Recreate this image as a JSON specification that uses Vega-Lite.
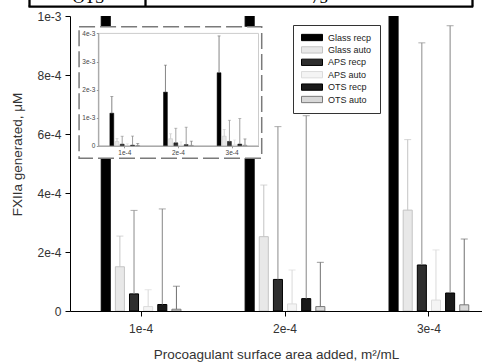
{
  "$schema": "https://vega.github.io/schema/vega-lite/v6.json",
  "width": 430,
  "height": 295,
  "autosize": "none",
  "padding": {"left": 70, "top": 16, "right": 0, "bottom": 51},
  "background": "white",
  "config": {
    "font": "Liberation Sans",
    "view": {"stroke": null},
    "axis": {"grid": false}
  },
  "datasets": {
    "bars": [
      {"area": "1e-4", "series": "Glass recp", "value": 0.00116, "upper": 0.00175},
      {"area": "1e-4", "series": "Glass auto", "value": 0.000150, "upper": 0.000254},
      {"area": "1e-4", "series": "APS recp", "value": 0.000058, "upper": 0.000341},
      {"area": "1e-4", "series": "APS auto", "value": 0.000015, "upper": 0.000072},
      {"area": "1e-4", "series": "OTS recp", "value": 0.000022, "upper": 0.000346},
      {"area": "1e-4", "series": "OTS auto", "value": 0.000006, "upper": 0.000084},
      {"area": "2e-4", "series": "Glass recp", "value": 0.00191, "upper": 0.00287},
      {"area": "2e-4", "series": "Glass auto", "value": 0.000252, "upper": 0.000427},
      {"area": "2e-4", "series": "APS recp", "value": 0.000107, "upper": 0.000625},
      {"area": "2e-4", "series": "APS auto", "value": 0.000024, "upper": 0.000139},
      {"area": "2e-4", "series": "OTS recp", "value": 0.000042, "upper": 0.000662},
      {"area": "2e-4", "series": "OTS auto", "value": 0.000015, "upper": 0.000165},
      {"area": "3e-4", "series": "Glass recp", "value": 0.00260, "upper": 0.00391},
      {"area": "3e-4", "series": "Glass auto", "value": 0.000342, "upper": 0.000581},
      {"area": "3e-4", "series": "APS recp", "value": 0.000156, "upper": 0.000909},
      {"area": "3e-4", "series": "APS auto", "value": 0.000037, "upper": 0.000207},
      {"area": "3e-4", "series": "OTS recp", "value": 0.000061, "upper": 0.000967},
      {"area": "3e-4", "series": "OTS auto", "value": 0.000021, "upper": 0.000244}
    ]
  },
  "resolve": {"scale": {"x": "independent", "y": "independent", "xOffset": "independent"}},
  "layer": [
    {
      "data": {"name": "bars"},
      "encoding": {
        "x": {"field": "area", "type": "nominal", "sort": null,
          "scale": {"domain": ["1e-4", "2e-4", "3e-4"], "paddingInner": 0.446, "paddingOuter": 0.217},
          "axis": {"orient": "bottom", "title": "Procoagulant surface area added, m²/mL", "labelAngle": 0, "labelFontSize": 12, "labelColor": "#333", "labelPadding": 7, "tickSize": 5, "tickColor": "#000", "domainColor": "#000", "titleFontSize": 13.5, "titleFontWeight": "normal", "titleColor": "#333", "titlePadding": 13, "titleX": 206}},
        "xOffset": {"field": "series", "type": "nominal", "sort": null,
          "scale": {"domain": ["Glass recp", "Glass auto", "APS recp", "APS auto", "OTS recp", "OTS auto"], "paddingInner": 0.36, "paddingOuter": 0}}
      },
      "layer": [
        {
          "mark": {"type": "bar", "clip": true, "strokeWidth": 1},
          "encoding": {
            "y": {"field": "value", "type": "quantitative", "stack": null,
              "scale": {"domain": [0, 0.001], "nice": false},
              "axis": {"orient": "left", "title": "FXIIa generated, μM", "values": [0, 0.0002, 0.0004, 0.0006, 0.0008, 0.001], "labelExpr": "datum.value == 0 ? '0' : format(datum.value, '.0e')", "labelFontSize": 12, "labelColor": "#333", "labelPadding": 4, "tickSize": 5, "tickColor": "#000", "domainColor": "#000", "titleFontSize": 13.5, "titleFontWeight": "normal", "titleColor": "#333", "titlePadding": 12, "titleY": 138}},
            "fill": {"field": "series", "type": "nominal",
              "scale": {"domain": ["Glass recp", "Glass auto", "APS recp", "APS auto", "OTS recp", "OTS auto"], "range": ["#000000", "#e8e8e8", "#2e2e2e", "#f4f4f4", "#1a1a1a", "#d8d8d8"]},
              "legend": {"orient": "none", "legendX": 223, "legendY": 9, "title": null, "symbolType": "M-1,-0.3H1V0.3H-1Z", "symbolSize": 441, "symbolStrokeWidth": 1, "symbolOpacity": 1, "clipHeight": 9, "rowPadding": 2.4, "labelFont": "Liberation Sans", "labelFontSize": 9, "labelColor": "#222", "labelOffset": 5, "padding": 8, "strokeColor": "#333", "fillColor": "white"}},
            "stroke": {"field": "series", "type": "nominal",
              "scale": {"domain": ["Glass recp", "Glass auto", "APS recp", "APS auto", "OTS recp", "OTS auto"], "range": ["#000000", "#c4c4c4", "#000000", "#dcdcdc", "#000000", "#7a7a7a"]}}
          }
        },
        {
          "mark": {"type": "rule", "clip": true, "strokeWidth": 1},
          "encoding": {
            "y": {"field": "value", "type": "quantitative", "axis": {"title": "FXIIa generated, μM"}},
            "y2": {"field": "upper"},
            "color": {"field": "series", "type": "nominal",
              "scale": {"domain": ["Glass recp", "Glass auto", "APS recp", "APS auto", "OTS recp", "OTS auto"], "range": ["#666666", "#c4c4c4", "#8c8c8c", "#dadada", "#858585", "#707070"]},
              "legend": null}
          }
        },
        {
          "mark": {"type": "tick", "clip": true, "orient": "horizontal", "size": 7, "thickness": 1},
          "encoding": {
            "y": {"field": "upper", "type": "quantitative", "axis": {"title": "FXIIa generated, μM"}},
            "color": {"field": "series", "type": "nominal", "legend": null}
          }
        }
      ]
    },
    {
      "resolve": {"scale": {"x": "independent"}},
      "layer": [
        {
          "data": {"values": [{}]},
          "layer": [
            {
              "mark": {"type": "rect", "fill": "white", "stroke": "#7a7a7a", "strokeWidth": 1.5, "strokeDash": [16, 5]},
              "encoding": {
                "x": {"datum": -0.12, "type": "quantitative", "scale": {"domain": [0, 1], "range": [28.3, 188.5], "nice": false, "zero": false}, "axis": null},
                "x2": {"datum": 1.02},
                "y": {"datum": -0.000445, "type": "quantitative", "scale": {"domain": [0, 0.004], "range": [129.8, 17.4], "nice": false, "zero": false},
                  "axis": {"orient": "left", "offset": -28.3, "title": null, "values": [0, 0.001, 0.002, 0.003, 0.004], "labelExpr": "datum.value == 0 ? '0' : format(datum.value, '.0e')", "labelFontSize": 6.5, "labelColor": "#444", "labelPadding": 1.5, "tickSize": 2, "tickColor": "#999", "domainColor": "#999", "zindex": 2}},
                "y2": {"datum": 0.00424}
              }
            },
            {
              "mark": {"type": "rect", "filled": false, "stroke": "#cccccc", "strokeWidth": 1},
              "encoding": {
                "x": {"datum": 0, "type": "quantitative"},
                "x2": {"datum": 1},
                "y": {"datum": 0, "type": "quantitative"},
                "y2": {"datum": 0.004}
              }
            }
          ]
        },
        {
          "data": {"name": "bars"},
          "encoding": {
            "x": {"field": "area", "type": "nominal", "sort": null,
              "scale": {"domain": ["1e-4", "2e-4", "3e-4"], "range": [28.3, 188.5], "paddingInner": 0.444, "paddingOuter": 0.216},
              "axis": {"orient": "bottom", "offset": -165.2, "title": null, "labelAngle": 0, "labelFontSize": 6.5, "labelColor": "#444", "labelPadding": 2, "tickSize": 2, "tickColor": "#999", "domainColor": "#999", "zindex": 2}},
            "xOffset": {"field": "series", "type": "nominal", "sort": null,
              "scale": {"domain": ["Glass recp", "Glass auto", "APS recp", "APS auto", "OTS recp", "OTS auto"], "paddingInner": 0.25, "paddingOuter": 0}}
          },
          "layer": [
            {
              "mark": {"type": "bar", "strokeWidth": 0.5},
              "encoding": {
                "y": {"field": "value", "type": "quantitative", "stack": null, "axis": {"orient": "left", "offset": -28.3, "title": null, "values": [0, 0.001, 0.002, 0.003, 0.004], "labelExpr": "datum.value == 0 ? '0' : format(datum.value, '.0e')", "labelFontSize": 6.5, "labelColor": "#444", "labelPadding": 1.5, "tickSize": 2, "tickColor": "#999", "domainColor": "#999", "zindex": 2}},
                "fill": {"field": "series", "type": "nominal"},
                "stroke": {"field": "series", "type": "nominal"}
              }
            },
            {
              "mark": {"type": "rule", "strokeWidth": 0.8},
              "encoding": {
                "y": {"field": "value", "type": "quantitative"},
                "y2": {"field": "upper"},
                "color": {"field": "series", "type": "nominal", "legend": null}
              }
            },
            {
              "mark": {"type": "tick", "orient": "horizontal", "size": 3, "thickness": 0.8},
              "encoding": {
                "y": {"field": "upper", "type": "quantitative"},
                "color": {"field": "series", "type": "nominal", "legend": null}
              }
            }
          ]
        }
      ]
    },
    {
      "data": {"values": [{}]},
      "mark": {"type": "rule", "opacity": 0},
      "encoding": {
        "x": {"datum": 0, "type": "quantitative",
          "scale": {"domain": [-42, 402.7], "range": [-42, 402.7], "nice": false, "zero": false},
          "axis": {"orient": "top", "offset": 9.8, "title": null, "values": [-40.8, 18, 75.5, 249, 401.5],
            "domainWidth": 2.3, "domainColor": "#000", "tickWidth": 2.3, "tickSize": 10,
            "tickColor": {"condition": {"test": "datum.value == 18 || datum.value == 249", "value": "transparent"}, "value": "#000"},
            "labelExpr": "datum.value == 18 ? 'OTS' : datum.value == 249 ? '75' : ''",
            "labelFont": "Liberation Serif", "labelFontSize": 17, "labelColor": "#000", "labelPadding": -6.3, "labelBaseline": "alphabetic", "labelOverlap": false, "labelBound": false, "labelFlush": false}}
      }
    }
  ]
}
